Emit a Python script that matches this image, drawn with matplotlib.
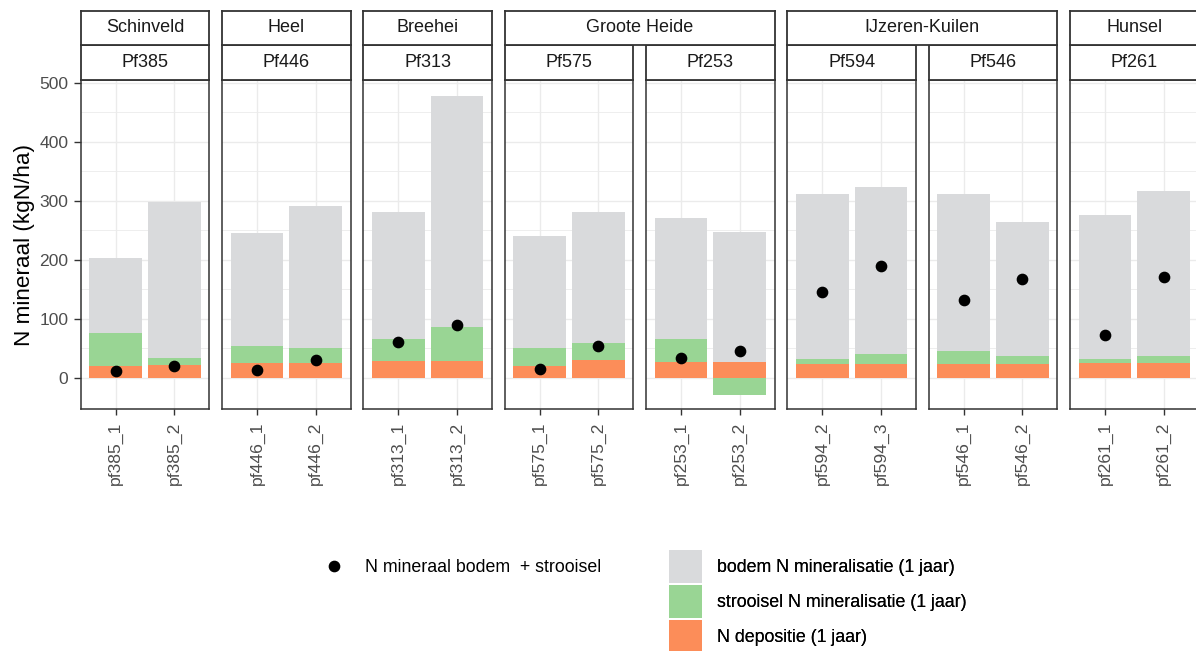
import matplotlib
matplotlib.use("Agg")
import matplotlib.pyplot as plt
import numpy as np

plt.rcParams['font.family'] = ['Liberation Sans', 'DejaVu Sans']

# one entry per plot (facet)
sites = ["Schinveld", "Heel", "Breehei", "Groote Heide", "Groote Heide",
         "IJzeren-Kuilen", "IJzeren-Kuilen", "Hunsel"]
plots = ["Pf385", "Pf446", "Pf313", "Pf575", "Pf253", "Pf594", "Pf546", "Pf261"]
samples = [["pf385_1", "pf385_2"], ["pf446_1", "pf446_2"], ["pf313_1", "pf313_2"],
           ["pf575_1", "pf575_2"], ["pf253_1", "pf253_2"], ["pf594_2", "pf594_3"],
           ["pf546_1", "pf546_2"], ["pf261_1", "pf261_2"]]

# kgN/ha per sample
depositie = [[19, 22], [25, 25], [29, 29], [19, 30], [26, 27], [24, 24], [23, 23], [25, 25]]
strooisel = [[57, 12], [29, 26], [37, 57], [31, 28], [40, -29], [7, 16], [23, 13], [6, 12]]
bodem = [[127, 263], [192, 240], [215, 392], [190, 222], [204, 220], [281, 284], [265, 227], [244, 279]]
n_mineraal = [[12, 20], [13, 30], [61, 90], [15, 54], [33, 46], [145, 190], [132, 167], [72, 170]]

c_bodem = "#d9dadc"
c_strooisel = "#99d594"
c_depositie = "#fc8d59"
c_line = "#333333"
c_tick = "#4d4d4d"
c_grid = "#ebebeb"

W, H = 1196, 651
fig = plt.figure(figsize=(W / 100, H / 100), dpi=100)


def box(x0, y0, x1, y1):
    # pixel box (top-left origin) -> figure fraction rect
    return [x0 / W, 1 - y1 / H, (x1 - x0) / W, (y1 - y0) / H]


panel_w = 128.7
panel_step = 141.33
left0 = 80.7
p_top, p_bot = 80.3, 409.3
s_top, s_mid = 10.7, 45.0

lefts = [left0 + i * panel_step for i in range(len(plots))]

handles = {}
for i, plot in enumerate(plots):
    ax = fig.add_axes(box(lefts[i], p_top, lefts[i] + panel_w, p_bot))
    x = np.arange(2)
    pos = np.zeros(2)
    neg = np.zeros(2)
    for vals, col, name in [(depositie[i], c_depositie, "N depositie (1 jaar)"),
                            (strooisel[i], c_strooisel, "strooisel N mineralisatie (1 jaar)"),
                            (bodem[i], c_bodem, "bodem N mineralisatie (1 jaar)")]:
        v = np.array(vals, dtype=float)
        base = np.where(v >= 0, pos, neg)
        b = ax.bar(x, v, width=0.9, bottom=base, color=col, linewidth=0, zorder=2, label=name)
        handles[name] = b
        pos = np.where(v >= 0, pos + v, pos)
        neg = np.where(v < 0, neg + v, neg)
    pt, = ax.plot(x, n_mineraal[i], 'o', color='black', ms=7.4, zorder=3,
                  label="N mineraal bodem  + strooisel")
    handles["pt"] = pt

    ax.set_xlim(-0.6, 1.6)
    ax.set_ylim(-53.6, 504)
    ax.set_yticks(np.arange(0, 501, 100))
    ax.set_yticks(np.arange(50, 501, 100), minor=True)
    ax.set_xticks(x)
    ax.set_xticklabels(samples[i], rotation=90, fontsize=12.6, color=c_tick)
    ax.grid(True, which='major', color=c_grid, lw=1.0, zorder=0)
    ax.grid(True, which='minor', axis='y', color=c_grid, lw=0.6, zorder=0)
    ax.set_axisbelow(True)
    ax.tick_params(axis='x', length=4.2, width=1.0, color=c_line, pad=4.6)
    ax.tick_params(axis='y', which='major', length=4.8, width=1.0, color=c_line,
                   pad=4.0, labelsize=12.6, labelcolor=c_tick)
    ax.tick_params(axis='y', which='minor', length=0)
    if i > 0:
        ax.tick_params(axis='y', which='major', left=False, labelleft=False)
    else:
        ax.set_ylabel("N mineraal (kgN/ha)", fontsize=16.2, color='black', labelpad=3.5)
    for sp in ax.spines.values():
        sp.set_color(c_line)
        sp.set_linewidth(1.1)

    # inner strip: plot name
    sax = fig.add_axes(box(lefts[i], s_mid, lefts[i] + panel_w, p_top))
    sax.set_xticks([])
    sax.set_yticks([])
    for sp in sax.spines.values():
        sp.set_color(c_line)
        sp.set_linewidth(1.3)
    sax.text(0.5, 0.5, plot, ha='center', va='center', fontsize=13, color='#1a1a1a',
             transform=sax.transAxes)

# outer strips: site names spanning consecutive plots
i = 0
while i < len(sites):
    j = i
    while j + 1 < len(sites) and sites[j + 1] == sites[i]:
        j += 1
    sax = fig.add_axes(box(lefts[i], s_top, lefts[j] + panel_w, s_mid))
    sax.set_xticks([])
    sax.set_yticks([])
    for sp in sax.spines.values():
        sp.set_color(c_line)
        sp.set_linewidth(1.3)
    sax.text(0.5, 0.5, sites[i], ha='center', va='center', fontsize=13, color='#1a1a1a',
             transform=sax.transAxes)
    i = j + 1

fs = 12.8
fs_px = fs * 100 / 72
# legend handle box height = fs * (0.65 * hh + 0.245); want 33 px keys
key_pt = 33 * 0.72
hh = (key_pt / fs - 0.245) / 0.65
fill_names = ["bodem N mineralisatie (1 jaar)", "strooisel N mineralisatie (1 jaar)",
              "N depositie (1 jaar)"]
leg1 = fig.legend([handles[n] for n in fill_names], fill_names,
                  loc='upper left', bbox_to_anchor=(669 / W, 1 - 550 / H),
                  frameon=False, borderpad=0, borderaxespad=0, fontsize=fs,
                  handlelength=33 / fs_px, handleheight=hh,
                  labelspacing=2 / fs_px, handletextpad=14.7 / fs_px)
fig.legend([handles["pt"]], ["N mineraal bodem  + strooisel"],
           loc='upper left', bbox_to_anchor=(316 / W, 1 - 559.5 / H),
           frameon=False, borderpad=0, borderaxespad=0, fontsize=fs,
           handlelength=2.0, handleheight=0.7, handletextpad=13.2 / fs_px,
           numpoints=1)
fig.add_artist(leg1)

fig.savefig("out.png", dpi=100)
